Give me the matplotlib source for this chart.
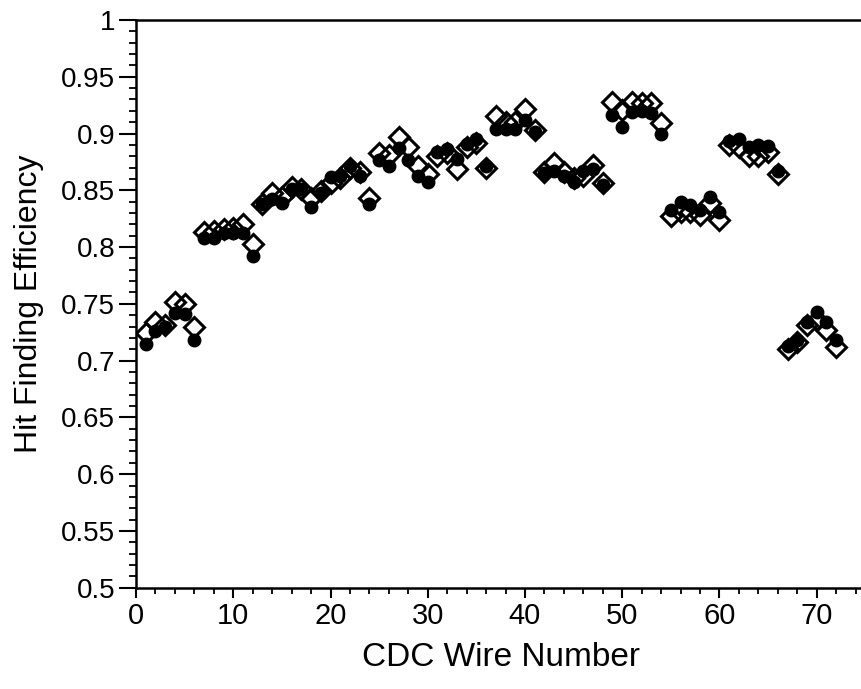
import matplotlib
matplotlib.use("Agg")
import matplotlib.pyplot as plt
from matplotlib.ticker import MultipleLocator

# wire numbers 1..72
wires = list(range(1, 73))

# filled circles
eff_circle = [
    0.715, 0.726, 0.730, 0.742, 0.741, 0.718, 0.808, 0.808, 0.812, 0.812,
    0.812, 0.792, 0.838, 0.842, 0.839, 0.851, 0.851, 0.835, 0.848, 0.862,
    0.863, 0.871, 0.863, 0.838, 0.877, 0.871, 0.887, 0.877, 0.863, 0.857,
    0.884, 0.886, 0.878, 0.891, 0.895, 0.871, 0.904, 0.904, 0.904, 0.912,
    0.901, 0.865, 0.867, 0.863, 0.857, 0.867, 0.869, 0.855, 0.916, 0.906,
    0.919, 0.920, 0.918, 0.900, 0.833, 0.840, 0.837, 0.833, 0.844, 0.831,
    0.893, 0.895, 0.888, 0.890, 0.889, 0.867, 0.713, 0.718, 0.734, 0.743,
    0.734, 0.718,
]

# open diamonds
eff_diamond = [
    0.724, 0.734, 0.731, 0.752, 0.750, 0.730, 0.813, 0.814, 0.816, 0.817,
    0.820, 0.803, 0.838, 0.848, 0.844, 0.853, 0.851, 0.843, 0.849, 0.856,
    0.861, 0.870, 0.866, 0.843, 0.883, 0.881, 0.897, 0.888, 0.871, 0.864,
    0.880, 0.883, 0.869, 0.888, 0.892, 0.870, 0.915, 0.910, 0.910, 0.922,
    0.903, 0.866, 0.874, 0.866, 0.861, 0.863, 0.872, 0.856, 0.928, 0.921,
    0.928, 0.927, 0.927, 0.909, 0.827, 0.831, 0.831, 0.828, 0.839, 0.824,
    0.890, 0.888, 0.880, 0.880, 0.884, 0.864, 0.710, 0.716, 0.731, 0.736,
    0.727, 0.712,
]

plt.rcParams['font.family'] = ['Liberation Sans', 'DejaVu Sans']

fig = plt.figure(figsize=(8.61, 6.89), dpi=100)
ax = fig.add_axes([0.158, 0.147, 0.847, 0.824])

ax.plot(wires, eff_circle, linestyle='none', marker='o', markersize=9,
        color='black', zorder=3)
ax.plot(wires, eff_diamond, linestyle='none', marker='D', markersize=10.5,
        markerfacecolor='none', markeredgecolor='black', markeredgewidth=2.2,
        zorder=4)

ax.set_xlim(0, 75)
ax.set_ylim(0.5, 1.0)

ax.xaxis.set_major_locator(MultipleLocator(10))
ax.xaxis.set_minor_locator(MultipleLocator(2))
ax.yaxis.set_major_locator(MultipleLocator(0.05))
ax.yaxis.set_minor_locator(MultipleLocator(0.01))
ax.yaxis.set_major_formatter(plt.FuncFormatter(lambda v, p: f"{v:g}"))

for s in ['left', 'bottom', 'top']:
    ax.spines[s].set_linewidth(1.8)
ax.spines['right'].set_visible(False)

ax.tick_params(axis='y', which='major', direction='out', length=12, width=1.5,
               labelsize=20, pad=3)
ax.tick_params(axis='y', which='minor', direction='out', length=5, width=1.3)
ax.tick_params(axis='x', which='major', direction='out', length=7, width=1.5,
               labelsize=21, pad=3)
ax.tick_params(axis='x', which='minor', direction='out', length=4, width=1.3)

ax.set_xlabel("CDC Wire Number", fontsize=24, labelpad=9)
ax.set_ylabel("Hit Finding Efficiency", fontsize=23, labelpad=12)

fig.savefig("out.png", dpi=100)
